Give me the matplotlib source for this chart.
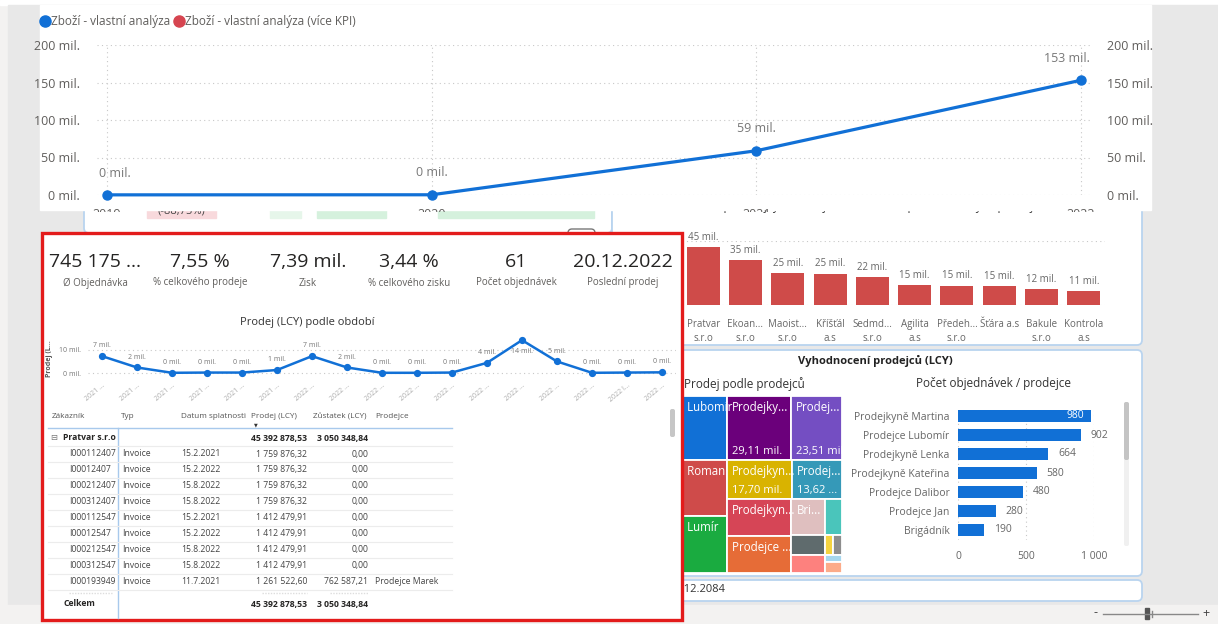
import matplotlib
matplotlib.use("Agg")
import matplotlib.pyplot as plt
from matplotlib.patches import Rectangle, FancyBboxPatch
from matplotlib.lines import Line2D

plt.rcParams["font.family"] = ["Open Sans", "DejaVu Sans"]

W, H = 1218, 624

TXT = "#605e5c"
LIGHT = "#777777"
BLUE = "#1170d6"
RED = "#cf4b49"
GRID = "#c8c8c8"
DOT = (0, (1, 3))

# ---------- data ----------
years = ["2019", "2020", "2021", "2022"]
goods_sales = [0.2, 0.3, 59.0, 153.0]          # mil.
legend_labels = ["Zboží - vlastní analýza", "Zboží - vlastní analýza (více KPI)"]

kpi_values = ["745 175 ...", "7,55 %", "7,39 mil.", "3,44 %", "61", "20.12.2022"]
kpi_labels = ["Ø Objednávka", "% celkového prodeje", "Zisk", "% celkového zisku",
              "Počet objednávek", "Poslední prodej"]

period_labels = ["2021 ..."] * 6 + ["2022 ..."] * 9 + ["2022 l...", "2022 ..."]
period_sales = [7.3, 2.4, 0.1, 0.2, 0.2, 1.3, 7.3, 2.4, 0.1, 0.1, 0.2, 4.4, 14.2, 5.0, 0.1, 0.2, 0.3]

tbl_cols = ["Zákazník", "Typ", "Datum splatnosti", "Prodej (LCY)", "Zůstatek (LCY)", "Prodejce"]
group_name = "Pratvar s.r.o"
doc_ids = ["I000112407", "I00012407", "I000212407", "I000312407", "I000112547",
           "I00012547", "I000212547", "I000312547", "I000193949"]
doc_types = ["Invoice"] * 9
due_dates = ["15.2.2021", "15.2.2022", "15.8.2022", "15.8.2022", "15.2.2021",
             "15.2.2022", "15.8.2022", "15.8.2022", "11.7.2021"]
doc_sales = [1759876.32] * 4 + [1412479.91] * 4 + [1261522.60]
doc_balance = [0.0] * 8 + [762587.21]
doc_seller = [""] * 8 + ["Prodejce Marek"]
total_sales = 45392878.53
total_balance = 3050348.84

customers = ["Pratvar\ns.r.o", "Ekoan...\ns.r.o", "Maoist...\ns.r.o", "Kříšťál\na.s",
             "Sedmd...\ns.r.o", "Agilita\na.s", "Předeh...\ns.r.o", "Šťára a.s",
             "Bakule\ns.r.o", "Kontrola\na.s"]
customer_sales = [45.39, 34.9, 25.2, 24.6, 21.7, 15.3, 15.2, 14.6, 12.2, 10.8]

sellers = ["Prodejkyně Martina", "Prodejce Lubomír", "Prodejkyně Lenka", "Prodejkyně Kateřina",
           "Prodejce Dalibor", "Prodejce Jan", "Brigádník"]
seller_orders = [980, 902, 664, 580, 480, 280, 190]

# treemap (mil.), nested lists alternate horizontal / vertical splits
tm_names = ["Prodejce Lubomír", "Prodejce Roman", "Prodejce Lumír", "Prodejky...", "Prodej...",
            "Prodejkyn...", "Prodej...", "Prodejkyn...", "Prodejce ...", "Bri...",
            "", "", "", "", "", "", ""]
tm_values = [43.0, 37.6, 38.3, 29.11, 23.51, 17.70, 13.62, 17.1, 17.0, 8.7, 4.4,
             4.6, 4.3, 1.2, 1.2, 0.9, 1.3]
tm_value_text = ["", "", "", "29,11 mil.", "23,51 mil.", "17,70 mil.", "13,62 ...", "", "",
                 "", "", "", "", "", "", "", ""]
tm_colors = ["#1170d6", "#cf4b4a", "#1aab40", "#6b007b", "#744ec2", "#d9b300", "#3599b8",
             "#d64556", "#e66c37", "#dfbfbf", "#4ac5bb", "#5f6b6d", "#fd817e", "#f5d33f",
             "#8d8d8d", "#a6d7ee", "#fcab89"]
tm_tree = [[0, 1, 2], [[3, 4], [5, 6], [[7, 8], [[9, 10], [[11, 12], [[13, 14], 15, 16]]]]]]


def cz(v):
    return f"{v:,.2f}".replace(",", " ").replace(".", ",")


fig = plt.figure(figsize=(W / 100, H / 100), dpi=100, facecolor="#f3f2f1")


def px_axes(x, y, w, h, z=0):
    ax = fig.add_axes([x / W, 1 - (y + h) / H, w / W, h / H], zorder=z)
    ax.set_facecolor("none")
    return ax


def canvas(z):
    ax = px_axes(0, 0, W, H, z)
    ax.set_xlim(0, W)
    ax.set_ylim(H, 0)
    ax.set_axis_off()
    return ax


def card(ax, x, y, w, h):
    ax.add_patch(FancyBboxPatch((x, y), w, h, boxstyle="round,pad=0,rounding_size=5",
                                fc="white", ec="#b9d4ef", lw=1.3))


def strip(ax):
    for s in ax.spines.values():
        s.set_visible(False)


# ---------- page background and cards behind ----------
bg = canvas(0)
bg.add_patch(Rectangle((0, 0), W, 5, color="white"))
bg.add_patch(Rectangle((8, 5), W - 8, 600, color="#e8e8e8"))
card(bg, 84, 150, 528, 83)
card(bg, 612, 150, 530, 195)
card(bg, 612, 350, 530, 226)
card(bg, 612, 580, 530, 21)
# badges of the hidden KPI card
bg.add_patch(Rectangle((147, 207), 69, 11, color="#f8d9dc"))
bg.text(181, 211, "(-88,75%)", fontsize=8, color="#444", ha="center", va="center")
bg.add_patch(Rectangle((270, 207), 31, 11, color="#e6f6ea"))
bg.add_patch(Rectangle((317, 207), 69, 11, color="#d5f1dd"))
bg.add_patch(Rectangle((438, 207), 156, 11, color="#d5f1dd"))
bg.add_patch(FancyBboxPatch((568, 229), 27, 10, boxstyle="round,pad=0,rounding_size=4",
                            fc="white", ec="#777", lw=1))
bg.text(875, 206, "Top 10 nejvýznamnějších zákazníků podle celkových prodejů",
        fontsize=8.5, color="#333", ha="center", va="center")
bg.text(875, 361, "Vyhodnocení prodejců (LCY)", fontsize=8, color="#222",
        ha="center", va="center", fontweight="bold")
bg.text(744, 384, "Prodej podle prodejců", fontsize=8.5, color="#333", ha="center", va="center")
bg.text(993, 384, "Počet objednávek / prodejce", fontsize=8.5, color="#333", ha="center", va="center")
bg.text(669, 590, "31.12.2084", fontsize=8, color="#333", va="center")
# scrollbar of the seller chart
bg.add_patch(FancyBboxPatch((1124, 402), 5, 144, boxstyle="round,pad=0,rounding_size=2",
                            fc="#f0f0f0", ec="none"))
bg.add_patch(FancyBboxPatch((1124, 402), 5, 58, boxstyle="round,pad=0,rounding_size=2",
                            fc="#c4c4c4", ec="none"))
# bottom bar with zoom slider
bg.add_patch(Rectangle((0, 605), W, 19, color="#f3f2f1"))
bg.text(1096, 613, "-", fontsize=9, color="#444", ha="center", va="center")
bg.plot([1103, 1198], [614, 614], color="#888", lw=1)
bg.add_patch(Rectangle((1145, 608), 4, 11, color="#555"))
bg.plot([1152, 1152], [611, 617], color="#888", lw=1)
bg.text(1206, 613, "+", fontsize=9, color="#444", ha="center", va="center")

# ---------- top customers bar chart ----------
ax_c = px_axes(682, 241, 423, 64, 0.5)
xs = list(range(len(customers)))
ax_c.bar(xs, customer_sales, width=0.78, color=RED)
ax_c.set_xlim(-0.5, len(customers) - 0.5)
ax_c.set_ylim(0, 50)
ax_c.set_yticks([0, 50])
ax_c.yaxis.grid(True, ls=DOT, color=GRID, lw=0.8)
ax_c.set_axisbelow(True)
ax_c.tick_params(axis="y", left=False, labelleft=False)
ax_c.set_xticks(xs, customers)
ax_c.tick_params(axis="x", length=0, pad=10, labelsize=7, labelcolor="#666")
for lbl in ax_c.get_xticklabels():
    lbl.set_linespacing(1.45)
for x, v in zip(xs, customer_sales):
    ax_c.annotate(f"{v:.0f} mil.", (x, v), xytext=(0, 3), textcoords="offset points",
                  ha="center", va="bottom", fontsize=7, color="#666")
strip(ax_c)

# ---------- treemap ----------
ax_t = px_axes(632, 396, 210, 177, 0.5)
ax_t.set_xlim(0, 1)
ax_t.set_ylim(1, 0)
ax_t.set_axis_off()


def tm_sum(node):
    return tm_values[node] if isinstance(node, int) else sum(tm_sum(n) for n in node)


def tm_layout(node, x, y, w, h, horiz, out):
    if isinstance(node, int):
        out.append((node, x, y, w, h))
        return
    tot = tm_sum(node)
    pos = 0.0
    for ch in node:
        f = tm_sum(ch) / tot
        if horiz:
            tm_layout(ch, x + pos * w, y, f * w, h, not horiz, out)
        else:
            tm_layout(ch, x, y + pos * h, w, f * h, not horiz, out)
        pos += f


tiles = []
tm_layout(tm_tree, 0, 0, 1, 1, True, tiles)
px_x, px_y = 1 / 210, 1 / 177
for i, x, y, w, h in tiles:
    ax_t.add_patch(Rectangle((x, y), w, h, fc=tm_colors[i], ec="white", lw=1.3))
    if tm_names[i]:
        ax_t.text(x + 5 * px_x, y + 5 * px_y, tm_names[i], color="white", fontsize=8.3,
                  ha="left", va="top")
    if tm_value_text[i]:
        ax_t.text(x + 5 * px_x, y + h - 3 * px_y, tm_value_text[i], color="white",
                  fontsize=8, ha="left", va="bottom")

# ---------- orders per seller ----------
ax_h = px_axes(958, 406.5, 136, 133, 0.5)
ys = list(range(len(sellers)))
ax_h.barh(ys, seller_orders, height=0.68, color=BLUE)
ax_h.set_ylim(len(sellers) - 0.5, -0.5)
ax_h.set_xlim(0, 1000)
ax_h.set_xticks([0, 500, 1000], ["0", "500", "1 000"])
ax_h.xaxis.grid(True, ls=DOT, color=GRID, lw=0.8)
ax_h.set_axisbelow(True)
ax_h.set_yticks(ys, sellers)
ax_h.tick_params(length=0, labelsize=7.5, labelcolor="#666")
ax_h.tick_params(axis="x", pad=8)
ax_h.tick_params(axis="y", pad=6)
for y, v in zip(ys, seller_orders):
    if v > 950:
        ax_h.annotate(str(v), (v, y), xytext=(-5, 0), textcoords="offset points",
                      ha="right", va="center", fontsize=7.5, color="white")
    else:
        ax_h.annotate(str(v), (v, y), xytext=(7, 0), textcoords="offset points",
                      ha="left", va="center", fontsize=7.5, color="#666")
strip(ax_h)

# ---------- top line chart ----------
top_bg = canvas(1)
top_bg.add_patch(Rectangle((40, 5), 1111, 205, color="white"))
ax_top = px_axes(97, 45, 993, 150, 1.1)
xi = list(range(len(years)))
ax_top.plot(xi, goods_sales, color=BLUE, lw=2.3, marker="o", ms=6.5, clip_on=False, zorder=3)
ax_top.set_xlim(-10 / 324.67, 3 + 9 / 324.67)
ax_top.set_ylim(0, 200)
ax_top.set_yticks([0, 50, 100, 150, 200], [f"{v} mil." for v in [0, 50, 100, 150, 200]])
ax_top.set_xticks(xi, [""] * len(xi))
ax_top.grid(True, ls=DOT, color=GRID, lw=0.8)
ax_top.tick_params(axis="y", left=False, right=False, labelleft=True, labelright=True,
                   labelsize=9, labelcolor=TXT, pad=9)
ax_top.tick_params(axis="x", length=0)
strip(ax_top)
clip = Rectangle((40 / W, 1 - 212 / H), 1111 / W, 207 / H, transform=fig.transFigure)
for i, yr in enumerate(years):
    t = ax_top.text(i, -0.13, yr, transform=ax_top.get_xaxis_transform(), ha="center",
                    va="center", fontsize=9, color=TXT)
    t.set_clip_on(True)
    t.set_clip_box(None)
    t.set_clip_path(clip)
offsets = [(6, 11), (0, 11), (0, 11), (-10, 11)]
for i, v in enumerate(goods_sales):
    ax_top.annotate(f"{v:.0f} mil.", (i, v), xytext=offsets[i], textcoords="offset points",
                    ha="center", va="bottom", fontsize=9, color=LIGHT)
handles = [Line2D([], [], ls="", marker="o", ms=8, color=BLUE),
           Line2D([], [], ls="", marker="o", ms=8, color="#d64550")]
ax_top.legend(handles, legend_labels, loc="center left", bbox_to_anchor=(41 / W, 1 - 22 / H),
              bbox_transform=fig.transFigure, ncol=2, frameon=False, fontsize=8.5,
              labelcolor=TXT, handlelength=0.6, handletextpad=0.25, columnspacing=0.4,
              borderpad=0, borderaxespad=0)

# ---------- popup (red frame) ----------
pop = canvas(2)
pop.add_patch(Rectangle((42, 233), 640, 387, fc="white", ec="#e31b1b", lw=2.4))

kpi_x = [95, 200, 308, 409, 516, 623]
for x, v, lab in zip(kpi_x, kpi_values, kpi_labels):
    pop.text(x, 262, v, fontsize=14, color="#252423", ha="center", va="center",
             family=["Liberation Sans Narrow", "Open Sans", "DejaVu Sans"])
    pop.text(x, 283, lab, fontsize=7, color=TXT, ha="center", va="center")

pop.text(307, 322, "Prodej (LCY) podle období", fontsize=8, color="#333", ha="center", va="center")

# table
FS = 6.2
hdr_x = [52, 121, 181, 251, 313, 375]
for t, x in zip(tbl_cols, hdr_x):
    pop.text(x, 417, t, fontsize=5.9, color="#555", va="center")
pop.text(254, 424.5, "▼", fontsize=3.5, color="#333", va="center", family=["DejaVu Sans"])
pop.plot([48, 452], [428, 428], color="#a8c9ec", lw=1)
pop.plot([118, 118], [428, 618], color="#a8c9ec", lw=1)
pop.text(50, 438, "⊟", fontsize=6, color="#777", va="center", family=["DejaVu Sans"])
pop.text(63, 438, group_name, fontsize=FS, color="#252423", va="center", fontweight="bold")
pop.text(307, 438, cz(total_sales), fontsize=FS, color="#252423", va="center", ha="right",
         fontweight="bold")
pop.text(368, 438, cz(total_balance), fontsize=FS, color="#252423", va="center", ha="right",
         fontweight="bold")
row_y = 454
for i in range(len(doc_ids)):
    y = row_y + 15.95 * i
    pop.plot([48, 452], [y - 8, y - 8], color="#ececec", lw=0.8)
    pop.text(69, y, doc_ids[i], fontsize=FS, color="#444", va="center")
    pop.text(122, y, doc_types[i], fontsize=FS, color="#444", va="center")
    pop.text(181, y, due_dates[i], fontsize=FS, color="#444", va="center")
    pop.text(307, y, cz(doc_sales[i]), fontsize=FS, color="#444", va="center", ha="right")
    pop.text(368, y, cz(doc_balance[i]), fontsize=FS, color="#444", va="center", ha="right")
    pop.text(375, y, doc_seller[i], fontsize=FS, color="#444", va="center")
y_last = row_y + 15.95 * len(doc_ids)
pop.plot([48, 452], [y_last - 8, y_last - 8], color="#ececec", lw=0.8)
pop.plot([69, 112], [y_last - 5, y_last - 5], color="#dddddd", lw=1, ls=(0, (1, 1)))
pop.plot([262, 307], [y_last - 5, y_last - 5], color="#dddddd", lw=1, ls=(0, (1, 1)))
pop.plot([330, 368], [y_last - 5, y_last - 5], color="#dddddd", lw=1, ls=(0, (1, 1)))
pop.text(64, 604, "Celkem", fontsize=FS, color="#252423", va="center", fontweight="bold")
pop.text(307, 604, cz(total_sales), fontsize=FS, color="#252423", va="center", ha="right",
         fontweight="bold")
pop.text(368, 604, cz(total_balance), fontsize=FS, color="#252423", va="center", ha="right",
         fontweight="bold")
pop.add_patch(FancyBboxPatch((670, 409), 5, 28, boxstyle="round,pad=0,rounding_size=2",
                             fc="#c6c6c6", ec="none"))

# mini line chart
ax_m = px_axes(88, 336, 588, 40.5, 2.1)
xm = list(range(len(period_sales)))
ax_m.plot(xm, period_sales, color=BLUE, lw=1.8, marker="o", ms=4.2, clip_on=False)
ax_m.set_xlim(-0.4, len(xm) - 0.6)
ax_m.set_ylim(-1.5, 16)
ax_m.set_yticks([0, 10], ["0 mil.", "10 mil."])
ax_m.yaxis.grid(True, ls=DOT, color=GRID, lw=0.8)
ax_m.tick_params(axis="y", length=0, labelsize=5, labelcolor=LIGHT, pad=5)
ax_m.set_xticks(xm, period_labels)
ax_m.tick_params(axis="x", length=0, labelsize=5, labelcolor="#aaa", pad=4)
for lbl in ax_m.get_xticklabels():
    lbl.set_rotation(40)
    lbl.set_ha("right")
    lbl.set_rotation_mode("anchor")
ax_m.set_ylabel("Prodej (L...", fontsize=5, fontweight="bold", color="#555")
ax_m.yaxis.set_label_coords(-0.06, 0.45)
peak = max(period_sales)
for x, v in zip(xm, period_sales):
    dy = -11 if v == peak else 5
    ax_m.annotate(f"{v:.0f} mil.", (x, v), xytext=(0, dy), textcoords="offset points",
                  ha="center", va="bottom", fontsize=5, color=LIGHT)
strip(ax_m)

fig.savefig("out.png", dpi=100, facecolor=fig.get_facecolor())
